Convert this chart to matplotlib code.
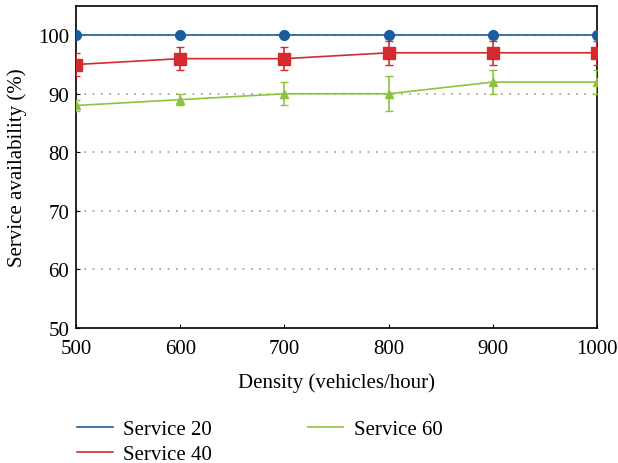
import matplotlib.pyplot as plt
import numpy as np

density = [500, 600, 700, 800, 900, 1000]
s20 = [100, 100, 100, 100, 100, 100]
s40 = [95, 96, 96, 97, 97, 97]
s40_err = [2, 2, 2, 2, 2, 2]
s60 = [88, 89, 90, 90, 92, 92]
s60_err = [1, 1, 2, 3, 2, 2]

plt.rcParams['font.family'] = ['Liberation Serif', 'DejaVu Serif']
plt.rcParams['font.size'] = 15

fig = plt.figure(figsize=(6.18, 4.64), dpi=100)
ax = fig.add_axes([0.123, 0.291, 0.843, 0.694])

for y in [60, 70, 80, 90, 100]:
    ax.axhline(y, color='#999999', linestyle=(0, (1, 4)), linewidth=1.2, zorder=0)

ax.plot(density, s20, color='#1a5c9e', marker='o', markersize=7,
        linewidth=1.2, zorder=3)
ax.errorbar(density, s40, yerr=s40_err, color='#d42a2f', marker='s',
            markersize=8, linewidth=1.2, capsize=3, elinewidth=1.2, zorder=3)
ax.errorbar(density, s60, yerr=s60_err, color='#8bc43c', marker='^',
            markersize=6, linewidth=1.2, capsize=3, elinewidth=1.2, zorder=3)

ax.set_xlim(500, 1000)
ax.set_ylim(50, 105)
ax.set_xticks(density)
ax.set_yticks([50, 60, 70, 80, 90, 100])
ax.tick_params(direction='in', length=3, labelsize=15)
ax.tick_params(axis='x', pad=8)
ax.tick_params(axis='y', pad=5)
ax.set_xlabel('Density (vehicles/hour)', fontsize=15, labelpad=10)
ax.set_ylabel('Service availability (%)', fontsize=15, labelpad=8)
for s in ax.spines.values():
    s.set_linewidth(1.2)

h20 = plt.Line2D([], [], color='#1a5c9e', linewidth=1.2)
h40 = plt.Line2D([], [], color='#d42a2f', linewidth=1.2)
h60 = plt.Line2D([], [], color='#8bc43c', linewidth=1.2)
fig.legend([h20, h40, h60], ['Service 20', 'Service 40', 'Service 60'],
           ncol=2, loc='upper left', bbox_to_anchor=(0.125, 0.093),
           frameon=False, fontsize=15, handlelength=1.7, handletextpad=0.5,
           columnspacing=4.6, labelspacing=0.25, borderpad=0, borderaxespad=0)

plt.savefig('out.png')
